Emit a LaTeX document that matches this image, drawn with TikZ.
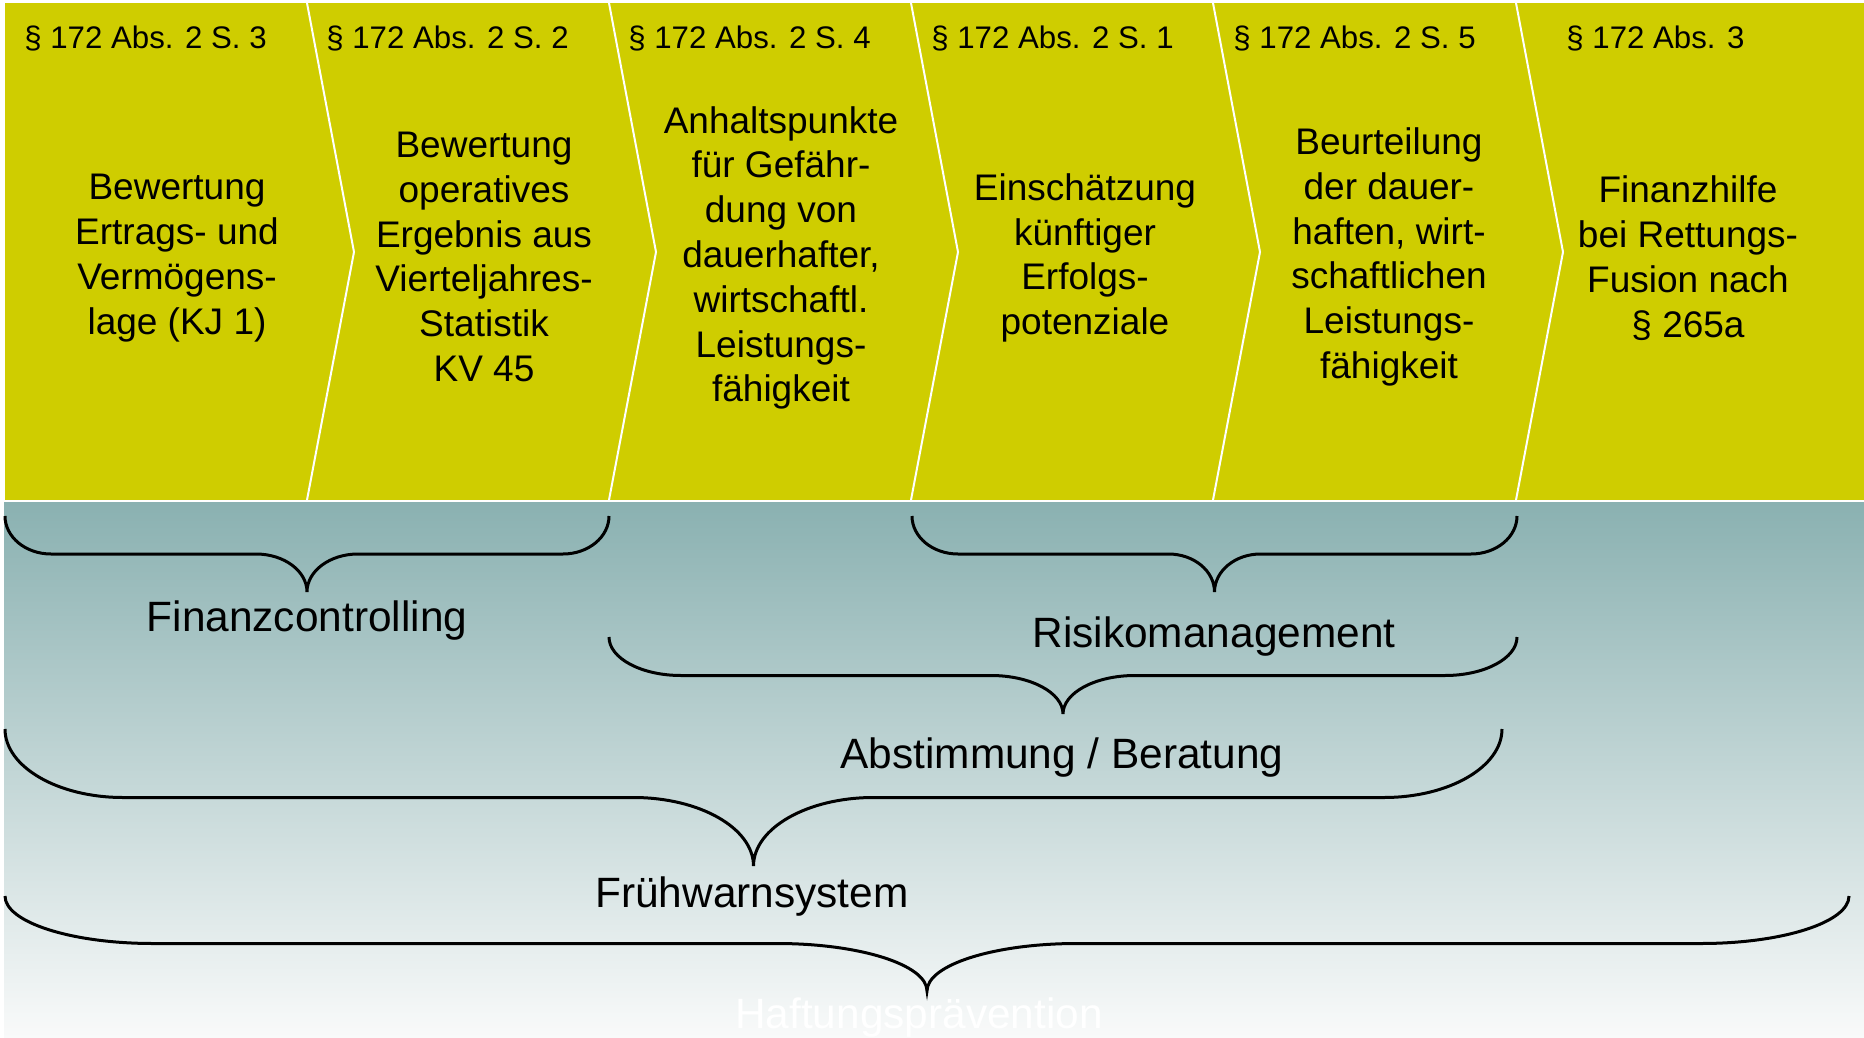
\documentclass[tikz,border=0pt]{standalone}
\usepackage{fontspec}
\setmainfont{Liberation Sans}
\usetikzlibrary{positioning}

\definecolor{chevron}{RGB}{207,205,0}
\definecolor{tealtop}{RGB}{138,177,177}
\definecolor{tealbot}{RGB}{249,250,250}

% horizontal curly brace, opening upwards: x0, x1, top y, depth, end radius, middle radius
\newcommand{\klammer}[6]{%
  \draw[bracket] (#1,#3)
    .. controls (#1,{#3+0.276*#4}) and ({#1+0.448*#5},{#3+#4/2}) .. ({#1+#5},{#3+#4/2})
    -- ({(#1+#2)/2-#6},{#3+#4/2})
    .. controls ({(#1+#2)/2-0.448*#6},{#3+#4/2}) and ({(#1+#2)/2},{#3+0.724*#4}) .. ({(#1+#2)/2},{#3+#4})
    .. controls ({(#1+#2)/2},{#3+0.724*#4}) and ({(#1+#2)/2+0.448*#6},{#3+#4/2}) .. ({(#1+#2)/2+#6},{#3+#4/2})
    -- ({#2-#5},{#3+#4/2})
    .. controls ({#2-0.448*#5},{#3+#4/2}) and (#2,{#3+0.276*#4}) .. (#2,#3);}

\begin{document}
\begin{tikzpicture}[x=0.5pt, y=-0.5pt,
  head/.style={anchor=base west, inner sep=0, font=\fontsize{15.6}{18}\selectfont},
  body/.style={align=center, inner sep=0, font=\fontsize{18.5}{22.4}\selectfont},
  tag/.style={inner sep=0, font=\fontsize{21.2}{25}\selectfont},
  bracket/.style={draw=black, line width=1.5pt},
  sep/.style={draw=white, line width=1pt}]
\useasboundingbox (0,0) rectangle (1864,1038);
\fill[white] (0,0) rectangle (1864,1038);

% Background areas
\fill[chevron] (5,3) rectangle (1864,500);
\shade[top color=tealtop, bottom color=tealbot] (4,502) rectangle (1864,1038);

% Chevron separators
\draw[sep] (307,3) -- (354,252) -- (307,500);
\draw[sep] (609,3) -- (656,252) -- (609,500);
\draw[sep] (911,3) -- (958,252) -- (911,500);
\draw[sep] (1213,3) -- (1260,252) -- (1213,500);
\draw[sep] (1516,3) -- (1563,252) -- (1516,500);

% Paragraph headings
\node[head] (h1) at (24,48.5) {§ 172 Abs. 2 S. 3};
\node[head] (h2) at (326,48.5) {§ 172 Abs. 2 S. 2};
\node[head] (h3) at (628,48.5) {§ 172 Abs. 2 S. 4};
\node[head] (h4) at (931,48.5) {§ 172 Abs. 2 S. 1};
\node[head] (h5) at (1233,48.5) {§ 172 Abs. 2 S. 5};
\node[head] (h6) at (1566,48.5) {§ 172 Abs. 3};

% Step texts
\node[body] (ertrag) at (177,258) {Bewertung\\Ertrags- und\\Vermögens-\\lage (KJ 1)};
\node[body] (ergebnis) at (484,257) {Bewertung\\operatives\\Ergebnis aus\\Vierteljahres-\\Statistik\\KV 45};
\node[body] (gefahr) at (781,258) {Anhaltspunkte\\für Gefähr-\\dung von\\dauerhafter,\\wirtschaftl.\\Leistungs-\\fähigkeit};
\node[body] (erfolg) at (1085,258) {Einschätzung\\künftiger\\Erfolgs-\\potenziale};
\node[body] (leistung) at (1389,257) {Beurteilung\\der dauer-\\haften, wirt-\\schaftlichen\\Leistungs-\\fähigkeit};
\node[body] (hilfe) at (1688,258) {Finanzhilfe\\bei Rettungs-\\Fusion nach\\§ 265a};

% Braces
\klammer{5}{609}{516}{76}{46}{51}
\klammer{912}{1517}{516}{76}{46}{46}
\klammer{609}{1517}{637}{77}{72}{72}
\klammer{5}{1502}{729}{137}{118}{120}
\klammer{5}{1849}{896}{95}{148}{150}

% Brace labels
\node[tag] (finanz) at (307,621) {Finanzcontrolling};
\node[tag] (risiko) at (1214,637) {Risikomanagement};
\node[tag] (abstimmung) at (1062,758) {Abstimmung / Beratung};
\node[tag] (fruehwarn) at (752,897) {Frühwarnsystem};
\node[tag, text=white] (haftung) at (919,1018) {Haftungsprävention};
\end{tikzpicture}
\end{document}
